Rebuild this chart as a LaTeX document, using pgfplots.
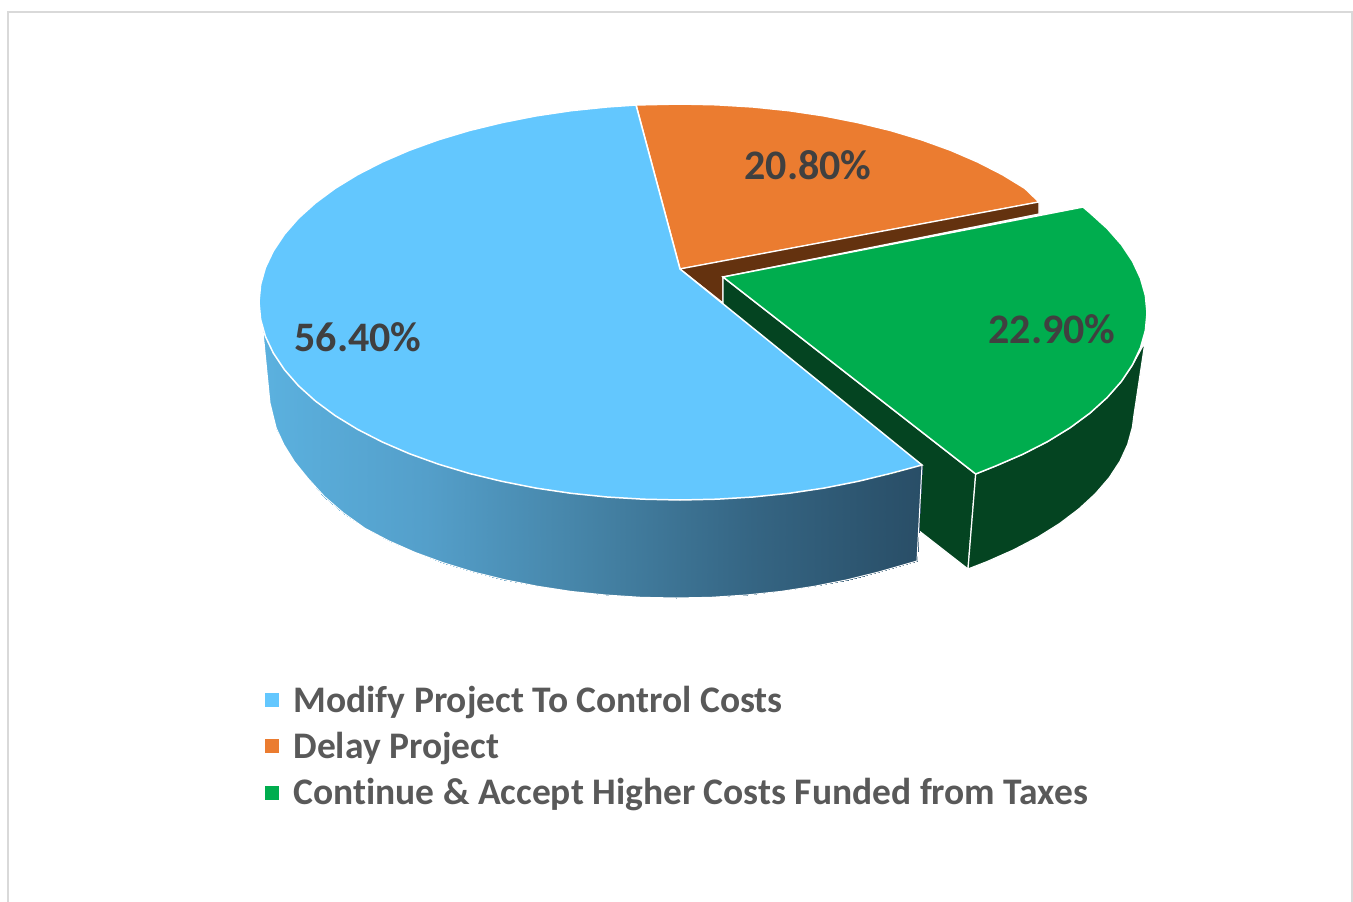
\documentclass[border=0pt]{standalone}
\usepackage{pgfplots}
\pgfplotsset{compat=1.18}
\usepackage{fontspec}
\setmainfont[Ligatures=NoCommon]{Carlito}
\definecolor{cblue}{HTML}{63C7FE}
\definecolor{corange}{HTML}{EB7C30}
\definecolor{cgreen}{HTML}{00AD4E}
\definecolor{cbrown}{HTML}{64320F}
\definecolor{cdgreen}{HTML}{044421}
\definecolor{cframe}{HTML}{D9D9D9}
\definecolor{clabel}{HTML}{404040}
\definecolor{clegend}{HTML}{595959}
\begin{document}
\begin{tikzpicture}
\begin{axis}[
  scale only axis, width=1353pt, height=902pt,
  xmin=0, xmax=1353, ymin=0, ymax=902, y dir=reverse,
  axis lines=none, clip=true,
  colormap={side}{rgb255=(91,177,223) rgb255=(84,159,202) rgb255=(69,131,166) rgb255=(53,101,131) rgb255=(41,78,103)},
  point meta min=262, point meta max=917,
  legend style={at={(axis cs:265,684)}, anchor=north west, draw=none, fill=none,
    font=\fontsize{37.5}{37.5}\selectfont\bfseries, text=clegend, row sep=14.5pt, inner sep=0pt, outer sep=0pt,
    /tikz/every even column/.append style={column sep=0pt}},
  legend cell align=left,
  legend image code/.code={\fill[#1,draw=none] (0pt,-7pt) rectangle (14pt,7pt);},
]
% keep the whole page in the bounding box
\addplot[forget plot, draw=none] coordinates {(0,0)(1353,902)};
% frame
\addplot[forget plot, cframe, line width=2pt] coordinates {(8.3,903)(8.3,12)(1352,12)(1352,903)};
% orange top
\addplot[forget plot, fill=corange, draw=white, line width=1.5pt] coordinates {(680,269)(636,105)(643.3,104.8)(680,104)(716.7,104.8)(753.1,107)(789,110.7)(824,115.9)(857.9,122.6)(890.5,130.5)(921.5,139.8)(950.6,150.3)(977.7,162)(1002.5,174.7)(1024.9,188.4)(1039,202)} -- cycle;
% brown cut
\addplot[forget plot, fill=cbrown, draw=white, line width=1.2pt] coordinates {(680,269)(1039,202)(1039,214)(723,277)(723,303)} -- cycle;
% green cut
\addplot[forget plot, fill=cdgreen, draw=white, line width=1.2pt] coordinates {(723,277)(975.7,474)(968,569)(723,378)} -- cycle;
% green side
\addplot[forget plot, fill=cdgreen, draw=white, line width=1.2pt] coordinates {(975.7,474)(995.2,466.2)(1022.5,454.4)(1047.6,441.6)(1070.2,427.7)(1090.1,413)(1107.2,397.5)(1121.4,381.4)(1132.5,364.8)(1145,342)(1134,415)(1132.4,427.3)(1127.7,444.4)(1120,461.2)(1109.2,477.7)(1095.4,493.7)(1078.8,509)(1059.5,523.6)(1037.6,537.3)(1013.3,550)(986.8,561.7)(968,569)} -- cycle;
% green top
\addplot[forget plot, fill=cgreen, draw=white, line width=1.5pt] coordinates {(723,277)(1083,207)(1090.1,213)(1107.2,228.5)(1121.4,244.6)(1132.5,261.2)(1140.5,278.3)(1145.4,295.6)(1147,313)(1145.4,330.4)(1140.5,347.7)(1132.5,364.8)(1121.4,381.4)(1107.2,397.5)(1090.1,413)(1070.2,427.7)(1047.6,441.6)(1022.5,454.4)(995.2,466.2)(975.7,474)} -- cycle;
% blue side with gradient
\addplot[forget plot, patch, patch type=rectangle, shader=interp, point meta=x] coordinates {
 (262.5,327)(265.4,336.4)(276.2,428)(270,403)
 (265.4,336.4)(273.4,353.2)(283.8,444.5)(276.2,428)
 (273.4,353.2)(284.4,369.7)(294.5,461.7)(283.8,444.5)
 (284.4,369.7)(298.4,385.7)(308,478.4)(294.5,461.7)
 (298.4,385.7)(315.4,401)(324.4,496.5)(308,478.4)
 (315.4,401)(335.1,415.6)(343.4,512.9)(324.4,496.5)
 (335.1,415.6)(357.5,429.3)(365,528.3)(343.4,512.9)
 (357.5,429.3)(382.3,442)(388.9,540.9)(365,528.3)
 (382.3,442)(409.4,453.7)(415,552.4)(388.9,540.9)
 (409.4,453.7)(438.5,464.2)(443.1,562.7)(415,552.4)
 (438.5,464.2)(469.5,473.5)(473,571.9)(443.1,562.7)
 (469.5,473.5)(502.1,481.4)(504.4,579.7)(473,571.9)
 (502.1,481.4)(536,488.1)(537.1,586.2)(504.4,579.7)
 (536,488.1)(571,493.3)(570.9,591.4)(537.1,586.2)
 (571,493.3)(606.9,497)(605.5,595)(570.9,591.4)
 (606.9,497)(643.3,499.2)(640.6,597.3)(605.5,595)
 (643.3,499.2)(680,500)(676,598)(640.6,597.3)
 (680,500)(716.7,499.2)(711.4,597.3)(676,598)
 (716.7,499.2)(753.1,497)(746.5,595)(711.4,597.3)
 (753.1,497)(789,493.3)(781.1,591.4)(746.5,595)
 (789,493.3)(824,488.1)(814.9,586.2)(781.1,591.4)
 (824,488.1)(857.9,481.4)(847.6,579.7)(814.9,586.2)
 (857.9,481.4)(890.5,473.5)(879,571.9)(847.6,579.7)
 (890.5,473.5)(922,465)(917,561)(879,571.9)
};
% blue side outline
\addplot[forget plot, white, line width=1pt] coordinates {(922,465)(917,561)(879,571.9)(847.6,579.7)(814.9,586.2)(781.1,591.4)(746.5,595)(711.4,597.3)(676,598)(640.6,597.3)(605.5,595)(570.9,591.4)(537.1,586.2)(504.4,579.7)(473,571.9)(443.1,562.7)(415,552.4)(388.9,540.9)(365,528.3)(343.4,512.9)(324.4,496.5)(308,478.4)(294.5,461.7)(283.8,444.5)(276.2,428)(270,403)(262.5,327)};
% blue top
\addplot[forget plot, fill=cblue, draw=white, line width=1.5pt] coordinates {(680,269)(636,105)(606.9,107)(571,110.7)(536,115.9)(502.1,122.6)(469.5,130.5)(438.5,139.8)(409.4,150.3)(382.3,162)(357.5,174.7)(335.1,188.4)(315.4,203)(298.4,218.3)(284.4,234.3)(273.4,250.8)(265.4,267.6)(260.6,284.7)(259,302)(260.6,319.3)(265.4,336.4)(273.4,353.2)(284.4,369.7)(298.4,385.7)(315.4,401)(335.1,415.6)(357.5,429.3)(382.3,442)(409.4,453.7)(438.5,464.2)(469.5,473.5)(502.1,481.4)(536,488.1)(571,493.3)(606.9,497)(643.3,499.2)(680,500)(716.7,499.2)(753.1,497)(789,493.3)(824,488.1)(857.9,481.4)(890.5,473.5)(922,465)} -- cycle;
% data labels
\addplot[forget plot, draw=none, mark=none, point meta=explicit symbolic,
  nodes near coords, nodes near coords align={center},
  every node near coord/.append style={font=\fontsize{42}{42}\selectfont\bfseries, text=clabel, anchor=center}]
  coordinates {(358,337)[56.40\%] (808,165)[20.80\%] (1052,329)[22.90\%]};
% legend
\addlegendimage{fill=cblue}
\addlegendentry{\,\,Modify Project To Control Costs}
\addlegendimage{fill=corange}
\addlegendentry{\,\,Delay Project}
\addlegendimage{fill=cgreen}
\addlegendentry{\,\,Continue \& Accept Higher Costs Funded from Taxes}
\end{axis}
\end{tikzpicture}
\end{document}
